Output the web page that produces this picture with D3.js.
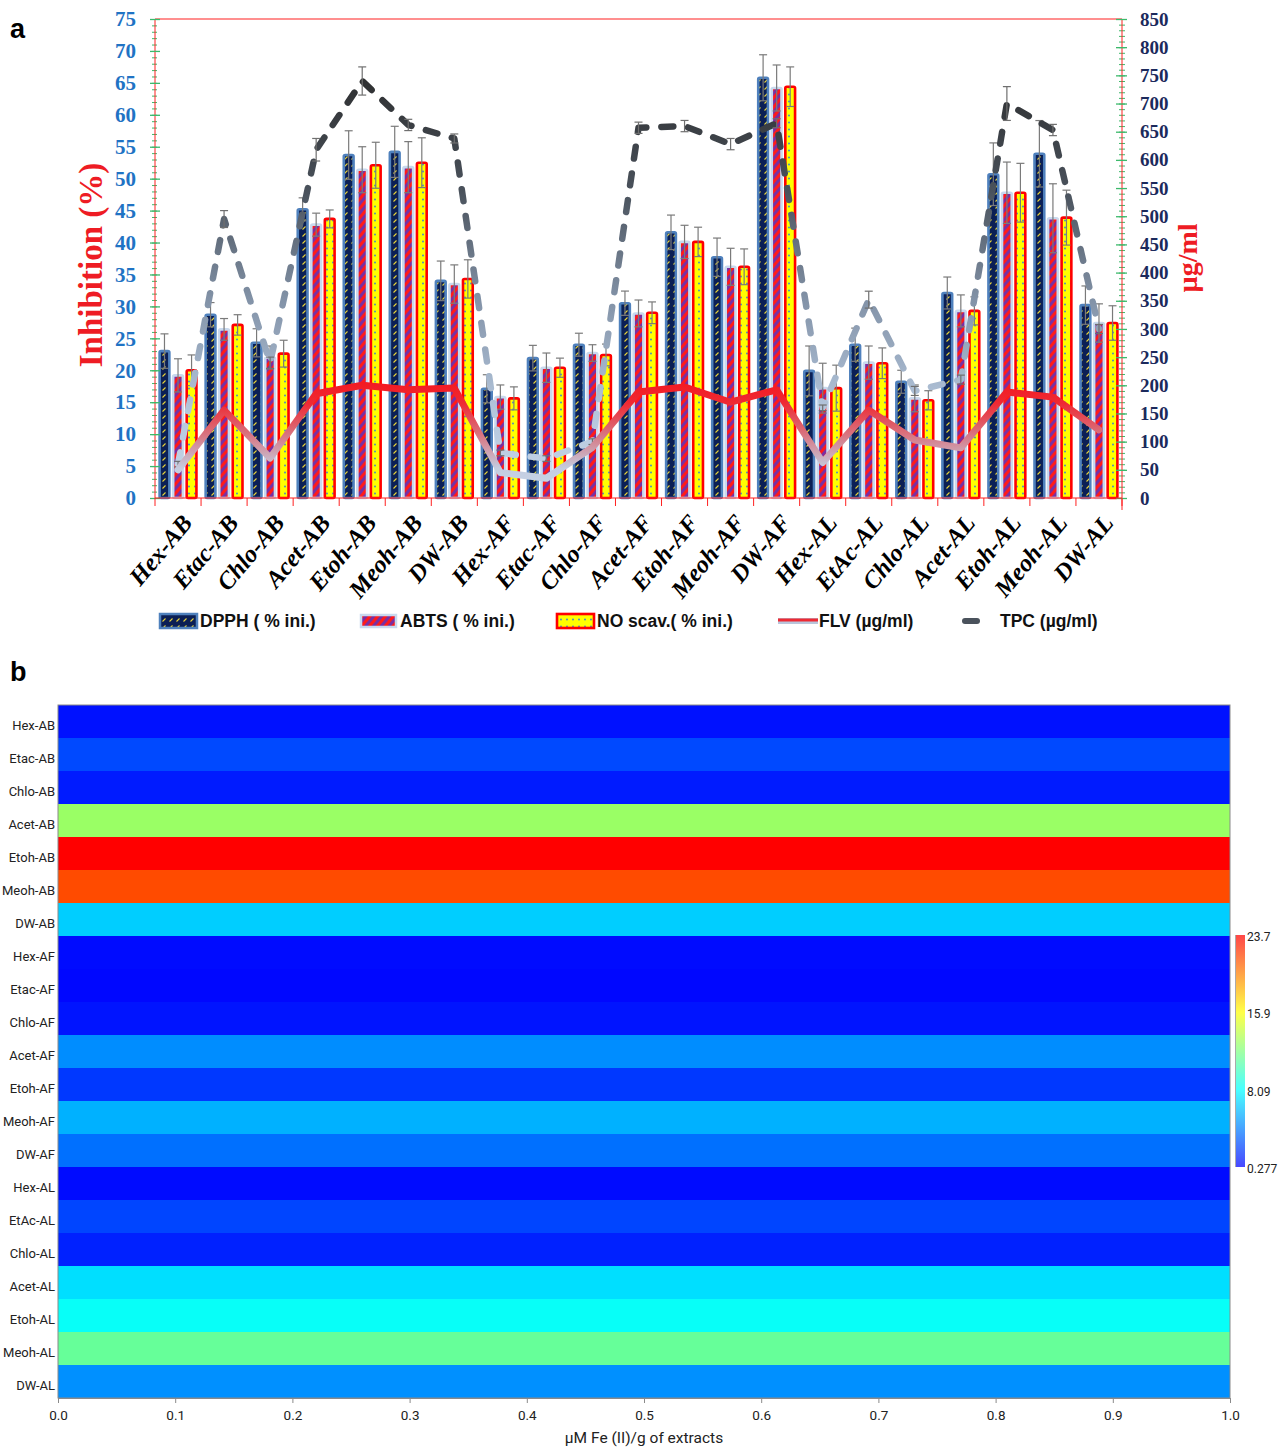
<!DOCTYPE html>
<html>
<head>
<meta charset="utf-8">
<script src="https://cdn.jsdelivr.net/npm/d3@7"></script>
<style>
  html, body { margin: 0; padding: 0; background: #fff; }
  svg { display: block; }
</style>
</head>
<body>
<svg id="chart" width="1279" height="1447"></svg>
<script>
// ---------------- DATA ----------------
const categories = ["Hex-AB","Etac-AB","Chlo-AB","Acet-AB","Etoh-AB","Meoh-AB","DW-AB",
                    "Hex-AF","Etac-AF","Chlo-AF","Acet-AF","Etoh-AF","Meoh-AF","DW-AF",
                    "Hex-AL","EtAc-AL","Chlo-AL","Acet-AL","Etoh-AL","Meoh-AL","DW-AL"];
const dpph    = [23.0,28.7,24.3,45.2,53.7,54.2,34.0,17.1,21.9,24.0,30.5,41.6,37.7,65.8,19.9,24.0,18.2,32.1,50.7,53.9,30.2];
const dpphErr = [2.7,1.9,2.2,1.8,3.8,4.0,3.1,2.2,2.0,1.8,1.9,2.7,3.0,3.6,3.9,2.6,1.8,2.5,4.9,5.2,3.0];
const abts    = [19.2,26.4,22.0,42.8,51.4,51.8,33.5,15.8,20.4,22.7,28.9,40.1,36.2,64.2,17.2,21.2,15.6,29.3,47.8,43.8,27.4];
const abtsErr = [2.6,1.7,1.8,1.8,3.6,4.0,3.0,1.9,2.3,1.3,2.1,2.6,2.9,3.6,3.9,2.6,2.1,2.5,4.8,5.4,3.0];
const noScav  = [20.0,27.1,22.6,43.7,52.1,52.5,34.3,15.6,20.4,22.4,29.0,40.1,36.2,64.4,17.2,21.1,15.3,29.3,47.8,43.9,27.4];
const noErr   = [2.4,1.6,2.1,1.4,3.6,3.9,3.0,1.8,1.5,1.7,1.7,2.3,2.8,3.1,3.6,2.4,1.5,2.2,4.6,4.3,2.7];
const flv     = [50,156,71,185,200,192,195,45,35,90,188,197,170,192,63,156,103,89,188,179,121];
const tpc     = [60,495,240,618,740,662,638,80,70,100,657,660,628,665,160,352,190,210,700,653,300];
const tpcErr  = [5,15,10,20,25,10,8,5,5,5,10,10,10,8,5,15,8,8,30,10,8];
const leftTicks  = d3.range(0, 80, 5);
const rightTicks = d3.range(0, 900, 50);
const seriesKeys = ["dpph","abts","no"];
const legendLabels = ["DPPH ( % ini.)","ABTS ( % ini.)","NO scav.( % ini.)","FLV (µg/ml)","TPC (µg/ml)"];

// heatmap (panel b)
const frap = [0.8,2.5,1.1,12.8,23.7,21.4,6.6,0.6,0.5,0.9,4.6,2.0,5.7,3.7,0.6,2.4,1.3,7.1,8.3,11.2,4.7];
const colorbarTicks = [0.277, 8.09, 15.9, 23.7];
const colorbarLabels = ["0.277","8.09","15.9","23.7"];
const heatXTicks = d3.range(0, 1.0001, 0.1);

// ---------------- SETUP ----------------
const svg = d3.select("#chart");
const defs = svg.append("defs");

// patterns
const pD = defs.append("pattern").attr("id","pDPPH").attr("patternUnits","userSpaceOnUse")
  .attr("width",7).attr("height",7);
pD.append("rect").attr("width",7).attr("height",7).attr("fill","#0b1f55");
pD.append("path").attr("d","M1.5,5.5 L4.5,2.5").attr("stroke","#e6d23a").attr("stroke-width",1.1);

const pA = defs.append("pattern").attr("id","pABTS").attr("patternUnits","userSpaceOnUse")
  .attr("width",6).attr("height",6).attr("patternTransform","rotate(40)");
pA.append("rect").attr("width",6).attr("height",6).attr("fill","#7a2fa0");
pA.append("rect").attr("width",3).attr("height",6).attr("fill","#ff1a1a");

const pN = defs.append("pattern").attr("id","pNO").attr("patternUnits","userSpaceOnUse")
  .attr("width",6).attr("height",7);
pN.append("rect").attr("width",6).attr("height",7).attr("fill","#ffff00");
pN.append("circle").attr("cx",3).attr("cy",3.5).attr("r",0.9).attr("fill","#3a7fd0");

// ---------------- PANEL A ----------------
const L = 155, R = 1122, T = 19, B = 498;
const x0 = d3.scaleBand().domain(categories).range([L,R]).paddingInner(0.2).paddingOuter(0.1);
const x1 = d3.scaleBand().domain(seriesKeys).range([0,x0.bandwidth()]).paddingInner(0.28);
const yL = d3.scaleLinear().domain([0,75]).range([B,T]);
const yR = d3.scaleLinear().domain([0,850]).range([B,T]);
const cx = c => x0(c) + x0.bandwidth()/2;

// line gradients
const gT = defs.append("linearGradient").attr("id","gTPC").attr("gradientUnits","userSpaceOnUse")
  .attr("x1",0).attr("y1",B).attr("x2",0).attr("y2",60);
[[0,"#c8d7ea"],[0.2,"#b4c6dc"],[0.45,"#8393a8"],[0.7,"#4a525c"],[1,"#2a2a2a"]]
  .forEach(s=>gT.append("stop").attr("offset",s[0]).attr("stop-color",s[1]));
const gF = defs.append("linearGradient").attr("id","gFLV").attr("gradientUnits","userSpaceOnUse")
  .attr("x1",0).attr("y1",B).attr("x2",0).attr("y2",380);
[[0,"#c8d7ea"],[0.25,"#c4cde0"],[0.55,"#d9707c"],[0.8,"#ee2a34"],[1,"#f4181f"]]
  .forEach(s=>gF.append("stop").attr("offset",s[0]).attr("stop-color",s[1]));

// bars
const gA = svg.append("g");
const rows = categories.map((c,i)=>({c,i,dpph:dpph[i],abts:abts[i],no:noScav[i],
  dpphErr:dpphErr[i],abtsErr:abtsErr[i],noErr:noErr[i]}));
const barStyle = {
  dpph:{fill:"url(#pDPPH)",stroke:"#4f81bd",sw:2.6},
  abts:{fill:"url(#pABTS)",stroke:"#c9d9ee",sw:2.6},
  no:{fill:"url(#pNO)",stroke:"#ff0000",sw:2.6}
};
seriesKeys.forEach(k=>{
  gA.append("g").selectAll("rect").data(rows).join("rect")
    .attr("x",d=>x0(d.c)+x1(k))
    .attr("y",d=>yL(d[k]))
    .attr("width",x1.bandwidth())
    .attr("height",d=>B-yL(d[k]))
    .attr("fill",barStyle[k].fill)
    .attr("stroke",barStyle[k].stroke)
    .attr("stroke-width",barStyle[k].sw)
    .attr("rx",1.5);
});

// bar error bars
const errG = gA.append("g").attr("stroke","#7a7a7a").attr("stroke-width",1.2).attr("fill","none");
seriesKeys.forEach(k=>{
  rows.forEach(d=>{
    const xc = x0(d.c)+x1(k)+x1.bandwidth()/2;
    const e = d[k+"Err"];
    const y1 = yL(d[k]+e), y2 = yL(d[k]-e);
    errG.append("line").attr("x1",xc).attr("x2",xc).attr("y1",y1).attr("y2",y2);
    errG.append("line").attr("x1",xc-4).attr("x2",xc+4).attr("y1",y1).attr("y2",y1);
    errG.append("line").attr("x1",xc-4).attr("x2",xc+4).attr("y1",y2).attr("y2",y2);
  });
});

// TPC dashed line
const lineT = d3.line().x((d,i)=>cx(categories[i])).y(d=>yR(d));
gA.append("path").datum(tpc).attr("d",lineT)
  .attr("fill","none").attr("stroke","url(#gTPC)").attr("stroke-width",6.5)
  .attr("stroke-linecap","round").attr("stroke-linejoin","round")
  .attr("stroke-dasharray","12,15");
// TPC error bars
const tErrG = gA.append("g").attr("stroke","#6f6f6f").attr("stroke-width",1.2);
tpc.forEach((v,i)=>{
  const xc = cx(categories[i]);
  const y1 = yR(v+tpcErr[i]), y2 = yR(v-tpcErr[i]);
  tErrG.append("line").attr("x1",xc).attr("x2",xc).attr("y1",y1).attr("y2",y2);
  tErrG.append("line").attr("x1",xc-4).attr("x2",xc+4).attr("y1",y1).attr("y2",y1);
  tErrG.append("line").attr("x1",xc-4).attr("x2",xc+4).attr("y1",y2).attr("y2",y2);
});
// FLV solid line
const lineF = d3.line().x((d,i)=>cx(categories[i])).y(d=>yR(d));
gA.append("path").datum(flv).attr("d",lineF)
  .attr("fill","none").attr("stroke","url(#gFLV)").attr("stroke-width",7)
  .attr("stroke-linejoin","round").attr("stroke-linecap","round");

// frame lines
svg.append("line").attr("x1",L).attr("x2",R).attr("y1",T).attr("y2",T).attr("stroke","#ff2020").attr("stroke-width",1.2);

// left axis
const axL = svg.append("g").attr("transform",`translate(${L},0)`);
axL.call(d3.axisLeft(yL).tickValues(d3.range(0,76,1)).tickSize(3).tickFormat(""));
axL.selectAll(".tick line").attr("stroke","#3cb96b").attr("x2",-3).attr("x1",2);
axL.select(".domain").remove();
const axL2 = svg.append("g").attr("transform",`translate(${L},0)`);
axL2.call(d3.axisLeft(yL).tickValues(leftTicks).tickSize(5).tickPadding(14).tickFormat(d3.format("d")));
axL2.selectAll(".tick line").attr("stroke","#3cb96b").attr("x1",5).attr("stroke-width",1.3);
axL2.select(".domain").attr("stroke","#ff2020").attr("d",`M0,${B}V${T}`);
axL2.selectAll(".tick text").attr("fill","#1f73c4").attr("font-family","'Liberation Serif', serif")
  .attr("font-weight","bold").attr("font-size",21);

// right axis
const axR = svg.append("g").attr("transform",`translate(${R},0)`);
axR.call(d3.axisRight(yR).tickValues(d3.range(0,851,10)).tickSize(3).tickFormat(""));
axR.selectAll(".tick line").attr("stroke","#3cb96b").attr("x1",-3);
axR.select(".domain").remove();
const axR2 = svg.append("g").attr("transform",`translate(${R},0)`);
axR2.call(d3.axisRight(yR).tickValues(rightTicks).tickSize(5).tickPadding(13).tickFormat(d3.format("d")));
axR2.selectAll(".tick line").attr("stroke","#3cb96b").attr("x1",-6).attr("stroke-width",1.3);
axR2.select(".domain").attr("stroke","#ff2020").attr("d",`M0,${B+12}V${T}`);
axR2.selectAll(".tick text").attr("fill","#1b2a5c").attr("font-family","'Liberation Serif', serif")
  .attr("font-weight","bold").attr("font-size",19);

// bottom axis
const axB = svg.append("g").attr("transform",`translate(0,${B})`);
axB.append("line").attr("x1",L).attr("x2",R).attr("stroke","#ff2020").attr("stroke-width",1.2);
const bounds = categories.map(c=>x0(c)-x0.step()*x0.paddingInner()/2).concat([R]);
axB.selectAll("line.tk").data(bounds).join("line").attr("class","tk")
  .attr("x1",d=>d).attr("x2",d=>d).attr("y1",0).attr("y2",8).attr("stroke","#ff2020");
svg.append("g").selectAll("text").data(categories).join("text")
  .attr("transform",c=>`translate(${cx(c)+9},${B+20}) rotate(-50)`)
  .attr("text-anchor","end").attr("dy","0.35em")
  .attr("font-family","'Liberation Serif', serif").attr("font-weight","bold").attr("font-style","italic")
  .attr("font-size",24.5).attr("fill","#000").text(d=>d);

// axis titles
svg.append("text").attr("transform","translate(102,265) rotate(-90)").attr("text-anchor","middle")
  .attr("font-family","'Liberation Serif', serif").attr("font-weight","bold").attr("font-size",33)
  .attr("fill","#ee1c24").text("Inhibition (%)");
svg.append("text").attr("transform","translate(1197,258) rotate(-90)").attr("text-anchor","middle")
  .attr("font-family","'Liberation Serif', serif").attr("font-weight","bold").attr("font-size",28)
  .attr("fill","#ee1c24").text("µg/ml");

// panel labels
svg.append("text").attr("x",10).attr("y",38).attr("font-family","'Liberation Sans', Arial, sans-serif")
  .attr("font-weight","bold").attr("font-size",27).text("a");
svg.append("text").attr("x",10).attr("y",681).attr("font-family","'Liberation Sans', Arial, sans-serif")
  .attr("font-weight","bold").attr("font-size",27).text("b");

// legend
const lg = svg.append("g").attr("font-family","'Liberation Sans', Arial, sans-serif").attr("font-weight","bold")
  .attr("font-size",17.5).attr("fill","#111");
const ly = 621;
lg.append("rect").attr("x",160).attr("y",ly-7).attr("width",37).attr("height",14)
  .attr("fill","url(#pDPPH)").attr("stroke","#4f81bd").attr("stroke-width",2.5);
lg.append("rect").attr("x",361).attr("y",ly-6).attr("width",35).attr("height",12)
  .attr("fill","url(#pABTS)").attr("stroke","#c9d9ee").attr("stroke-width",2.5);
lg.append("rect").attr("x",557).attr("y",ly-7).attr("width",37).attr("height",14)
  .attr("fill","url(#pNO)").attr("stroke","#ff0000").attr("stroke-width",2.6);
lg.append("line").attr("x1",778).attr("x2",818).attr("y1",ly).attr("y2",ly)
  .attr("stroke","#b9c6dc").attr("stroke-width",6);
lg.append("line").attr("x1",778).attr("x2",818).attr("y1",ly-1).attr("y2",ly-1)
  .attr("stroke","#ee2a34").attr("stroke-width",3);
lg.append("line").attr("x1",965).attr("x2",977).attr("y1",ly).attr("y2",ly)
  .attr("stroke","#4a525c").attr("stroke-width",6).attr("stroke-linecap","round");
const lgx = [200,400,597,819,1000];
legendLabels.forEach((t,i)=>lg.append("text").attr("x",lgx[i]).attr("y",ly).attr("dy","0.35em").text(t));

// ---------------- PANEL B ----------------
const HL = 58, HR = 1230, HT = 705, HB = 1398;
const hy = d3.scaleBand().domain(categories).range([HT,HB]);
const hx = d3.scaleLinear().domain([0,1]).range([HL,HR]);
const cmap = d3.scaleLinear().domain(colorbarTicks).range(["#0000ff","#00ffff","#ffff00","#ff0000"]).clamp(true);

svg.append("g").selectAll("rect").data(categories).join("rect")
  .attr("x",hx(0)).attr("width",hx(1)-hx(0))
  .attr("y",c=>hy(c)).attr("height",hy.bandwidth()+0.5)
  .attr("fill",(c,i)=>cmap(frap[i]));
svg.append("rect").attr("x",HL).attr("y",HT).attr("width",HR-HL).attr("height",HB-HT)
  .attr("fill","none").attr("stroke","#8a8a8a").attr("stroke-width",1);

const hFont = "Roboto, 'Noto Sans', sans-serif";
const hAxY = svg.append("g").attr("transform",`translate(${HL},0)`)
  .call(d3.axisLeft(hy).tickSize(0).tickPadding(3));
hAxY.select(".domain").remove();
hAxY.selectAll(".tick text").attr("font-family",hFont).attr("font-size",13)
  .attr("fill","#222").attr("dy","0.62em");

const hAxX = svg.append("g").attr("transform",`translate(0,${HB})`)
  .call(d3.axisBottom(hx).tickValues(heatXTicks).tickFormat(d3.format(".1f")).tickSize(5).tickPadding(7));
hAxX.select(".domain").attr("stroke","#8a8a8a");
hAxX.selectAll(".tick line").attr("stroke","#8a8a8a");
hAxX.selectAll(".tick text").attr("font-family",hFont).attr("font-size",13.5)
  .attr("fill","#222");
svg.append("text").attr("x",644).attr("y",1443).attr("text-anchor","middle")
  .attr("font-family",hFont).attr("font-size",15.5).attr("fill","#222")
  .text("µM Fe (II)/g of extracts");

// colorbar
const cbY = d3.scaleLinear().domain([colorbarTicks[0],colorbarTicks[3]]).range([1167,935]);
const gC = defs.append("linearGradient").attr("id","gCB").attr("x1",0).attr("y1",1).attr("x2",0).attr("y2",0);
colorbarTicks.forEach((v,i)=>gC.append("stop").attr("offset",i/3).attr("stop-color",cmap(v)));
svg.append("rect").attr("x",1236).attr("y",935).attr("width",9).attr("height",232)
  .attr("fill","url(#gCB)").attr("opacity",0.72);
svg.append("line").attr("x1",1235.5).attr("x2",1235.5).attr("y1",935).attr("y2",1167).attr("stroke","#aaa");
svg.append("g").selectAll("text").data(colorbarTicks).join("text")
  .attr("x",1247).attr("y",d=>cbY(d)+6).attr("font-family",hFont)
  .attr("font-size",12).attr("fill","#222").text((d,i)=>colorbarLabels[i]);
</script>
</body>
</html>
